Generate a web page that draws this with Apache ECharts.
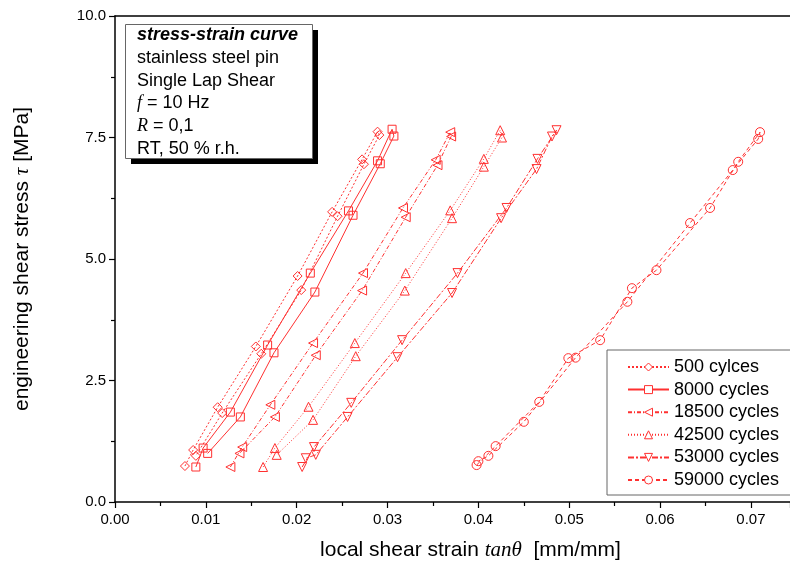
<!DOCTYPE html>
<html>
<head>
<meta charset="utf-8">
<script src="https://cdn.jsdelivr.net/npm/echarts@6/dist/echarts.min.js"></script>
<style>
  html, body { margin: 0; padding: 0; background: #fff; }
  #mainChart { width: 790px; height: 574px; }
</style>
</head>
<body>
<div id="mainChart"></div>
<script type="text/javascript">
// legend names (as printed on the original)
var seriesNames = ['500 cylces', '8000 cycles', '18500 cycles', '42500 cycles', '53000 cycles', '59000 cycles'];

// strain [mm/mm] / stress [MPa], loading branch then unloading branch
var strain500 = [0.0077, 0.0086, 0.0113, 0.0155, 0.0201, 0.0239, 0.0272, 0.0289, 0.0291, 0.0274, 0.0245, 0.0205, 0.0161, 0.0118, 0.0089];
var stress500 = [0.74, 1.07, 1.95, 3.20, 4.65, 5.97, 7.05, 7.62, 7.55, 6.95, 5.88, 4.36, 3.05, 1.83, 0.95];

var strain8000 = [0.0089, 0.0097, 0.0127, 0.0168, 0.0215, 0.0257, 0.0289, 0.0305, 0.0307, 0.0292, 0.0262, 0.0220, 0.0175, 0.0138, 0.0102];
var stress8000 = [0.72, 1.11, 1.85, 3.23, 4.71, 5.99, 7.02, 7.67, 7.53, 6.96, 5.90, 4.32, 3.07, 1.75, 1.00];

var strain18500 = [0.0127, 0.0140, 0.0171, 0.0218, 0.0273, 0.0317, 0.0353, 0.0369, 0.0370, 0.0355, 0.0320, 0.0272, 0.0221, 0.0176, 0.0137];
var stress18500 = [0.72, 1.13, 2.00, 3.27, 4.71, 6.05, 7.04, 7.61, 7.52, 6.93, 5.86, 4.35, 3.02, 1.75, 1.00];

var strain42500 = [0.0163, 0.0176, 0.0213, 0.0264, 0.0320, 0.0369, 0.0406, 0.0424, 0.0426, 0.0406, 0.0371, 0.0319, 0.0265, 0.0218, 0.0178];
var stress42500 = [0.72, 1.11, 1.96, 3.27, 4.71, 6.00, 7.06, 7.65, 7.50, 6.90, 5.84, 4.35, 3.00, 1.69, 0.97];

var strain53000 = [0.0206, 0.0219, 0.0260, 0.0316, 0.0377, 0.0431, 0.0465, 0.0486, 0.0481, 0.0464, 0.0425, 0.0371, 0.0311, 0.0256, 0.0221, 0.0210];
var stress53000 = [0.72, 1.13, 2.04, 3.33, 4.71, 6.05, 7.06, 7.65, 7.52, 6.85, 5.84, 4.30, 2.98, 1.75, 0.97, 0.90];

var strain59000 = [0.0398, 0.0419, 0.0467, 0.0499, 0.0534, 0.0569, 0.0596, 0.0655, 0.0686, 0.0710, 0.0708, 0.0680, 0.0633, 0.0564, 0.0507, 0.0450, 0.0411, 0.0400];
var stress59000 = [0.76, 1.15, 2.06, 2.96, 3.33, 4.40, 4.77, 6.05, 7.00, 7.61, 7.47, 6.83, 5.74, 4.12, 2.97, 1.65, 0.95, 0.84];

// axis ticks
var xTickStep = 0.01;
var yTickStep = 2.5;

function zip(xs, ys) {
    var out = [];
    for (var i = 0; i < xs.length; i++) {
        out.push([xs[i], ys[i]]);
    }
    return out;
}

var red = '#ff3030';

function makeSeries(name, xs, ys, symbol, rotate, size, dash) {
    return {
        name: name,
        type: 'line',
        data: zip(xs, ys),
        symbol: symbol,
        symbolRotate: rotate,
        symbolSize: size,
        showSymbol: true,
        lineStyle: { color: red, width: 1, type: dash },
        itemStyle: { color: 'rgba(255,255,255,0)', borderColor: red, borderWidth: 1 },
        emphasis: { disabled: true }
    };
}

var myChart = echarts.init(document.getElementById('mainChart'));

var options = {
    animation: false,
    backgroundColor: '#fff',
    textStyle: { fontFamily: 'Liberation Sans' },
    grid: { left: 115, top: 16, right: 0, bottom: 72 },
    legend: {
        orient: 'vertical',
        left: 607,
        top: 350,
        padding: [8, 30, 6, 20],
        itemWidth: 41,
        itemHeight: 10,
        itemGap: 4.6,
        borderColor: '#666',
        borderWidth: 1,
        backgroundColor: '#fff',
        data: seriesNames,
        itemStyle: { color: '#fff', borderColor: red, borderWidth: 1 },
        textStyle: { fontSize: 18, color: '#000', fontFamily: 'Liberation Sans', lineHeight: 16 }
    },
    xAxis: [{
        type: 'value',
        min: 0,
        max: 0.0743,
        interval: xTickStep,
        name: 'local shear strain {i|tan\u03b8}  [mm/mm]',
        nameLocation: 'middle',
        nameGap: 38,
        nameTextStyle: {
            fontSize: 21, color: '#000', fontFamily: 'Liberation Sans',
            padding: [0, 0, 0, 36],
            rich: { i: { fontSize: 21, fontStyle: 'italic', fontFamily: 'Liberation Serif', color: '#000' } }
        },
        axisLine: { lineStyle: { color: '#000', width: 1.5 } },
        axisTick: { length: 6, lineStyle: { color: '#000', width: 1.2 } },
        minorTick: { show: true, splitNumber: 2, length: 4, lineStyle: { color: '#000', width: 1.2 } },
        axisLabel: {
            margin: 10, fontSize: 15, color: '#000', showMaxLabel: false,
            formatter: function (v) { return v.toFixed(2); }
        },
        splitLine: { show: false }
    }, {
        type: 'value',
        position: 'top',
        min: 0,
        max: 0.0743,
        axisLine: { lineStyle: { color: '#000', width: 1.5 } },
        axisTick: { show: false },
        axisLabel: { show: false },
        splitLine: { show: false }
    }],
    yAxis: {
        type: 'value',
        min: 0,
        max: 10,
        interval: yTickStep,
        name: 'engineering shear stress {i|\u03c4} [MPa]',
        nameLocation: 'middle',
        nameGap: 82,
        nameTextStyle: {
            fontSize: 21, color: '#000', fontFamily: 'Liberation Sans',
            rich: { i: { fontSize: 21, fontStyle: 'italic', fontFamily: 'Liberation Serif', color: '#000' } }
        },
        axisLine: { show: true, lineStyle: { color: '#000', width: 1.5 } },
        axisTick: { length: 6, lineStyle: { color: '#000', width: 1.2 } },
        minorTick: { show: true, splitNumber: 2, length: 4, lineStyle: { color: '#000', width: 1.2 } },
        axisLabel: {
            margin: 9, fontSize: 15, color: '#000',
            formatter: function (v) { return v.toFixed(1); }
        },
        splitLine: { show: false }
    },
    graphic: [
        // shadow of the info box
        { type: 'rect', left: 131, top: 30, z: 50, shape: { width: 187, height: 134 }, style: { fill: '#000' } },
        { type: 'rect', left: 125, top: 24, z: 51, shape: { width: 187, height: 134 }, style: { fill: '#fff', stroke: '#666', lineWidth: 1 } },
        {
            type: 'text', left: 137, top: 24, z: 52,
            style: {
                text: '{b|stress-strain curve}\nstainless steel pin\nSingle Lap Shear\n{i|f} = 10 Hz\n{i|R} = 0,1\nRT, 50 % r.h.',
                fontSize: 18,
                fontFamily: 'Liberation Sans',
                fill: '#000',
                lineHeight: 22.7,
                rich: {
                    b: { fontSize: 18, fontWeight: 'bold', fontStyle: 'italic', fontFamily: 'Liberation Sans', lineHeight: 22.7 },
                    i: { fontSize: 18, fontStyle: 'italic', fontFamily: 'Liberation Serif', lineHeight: 22.7 }
                }
            }
        }
    ],
    series: [
        makeSeries(seriesNames[0], strain500, stress500, 'diamond', 0, 9, [2, 2]),
        makeSeries(seriesNames[1], strain8000, stress8000, 'rect', 0, 8, 'solid'),
        makeSeries(seriesNames[2], strain18500, stress18500, 'triangle', 90, 9, [4, 2, 1, 2]),
        makeSeries(seriesNames[3], strain42500, stress42500, 'triangle', 0, 9, [1, 2]),
        makeSeries(seriesNames[4], strain53000, stress53000, 'triangle', 180, 9, [6, 2, 2, 2]),
        makeSeries(seriesNames[5], strain59000, stress59000, 'circle', 0, 9, [4, 3])
    ]
};

myChart.setOption(options);
</script>
</body>
</html>
